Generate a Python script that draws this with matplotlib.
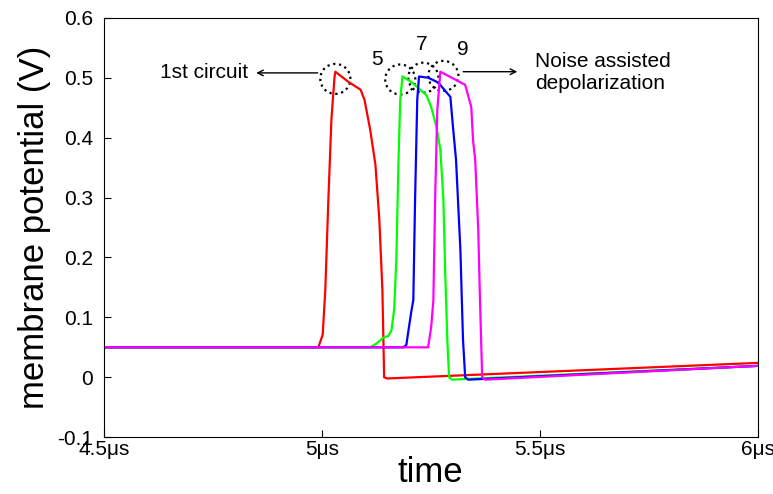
import matplotlib.pyplot as plt
from matplotlib.patches import Ellipse

plt.rcParams['font.family'] = ['Liberation Sans', 'DejaVu Sans']

# traces: time in microseconds, potential in volts
red_t = [4.5, 4.992, 5.002, 5.008, 5.015, 5.022, 5.029, 5.031, 5.061, 5.089, 5.098,
         5.111, 5.123, 5.132, 5.139, 5.143, 5.150, 6.0]
red_v = [0.05, 0.05, 0.071, 0.146, 0.296, 0.430, 0.500, 0.510, 0.493, 0.480, 0.463,
         0.413, 0.355, 0.263, 0.146, 0.0, -0.002, 0.024]

green_t = [4.5, 5.111, 5.125, 5.141, 5.153, 5.160, 5.166, 5.171, 5.176, 5.180, 5.185,
           5.205, 5.221, 5.240, 5.251, 5.263, 5.272, 5.279, 5.283, 5.288, 5.292, 5.299, 6.0]
green_v = [0.05, 0.05, 0.056, 0.066, 0.069, 0.079, 0.113, 0.196, 0.363, 0.463, 0.502,
           0.493, 0.483, 0.471, 0.451, 0.418, 0.380, 0.296, 0.179, 0.063, 0.0, -0.004, 0.019]

blue_t = [4.5, 5.187, 5.194, 5.198, 5.205, 5.210, 5.214, 5.219, 5.223, 5.244, 5.267,
          5.295, 5.301, 5.308, 5.318, 5.324, 5.329, 5.336, 6.0]
blue_v = [0.05, 0.05, 0.054, 0.074, 0.108, 0.129, 0.296, 0.463, 0.502, 0.500, 0.492,
          0.468, 0.418, 0.363, 0.213, 0.063, 0.0, -0.004, 0.019]

magenta_t = [4.5, 5.244, 5.251, 5.256, 5.260, 5.265, 5.272, 5.285, 5.306, 5.329, 5.343,
             5.347, 5.352, 5.359, 5.363, 5.368, 5.375, 6.0]
magenta_v = [0.05, 0.05, 0.084, 0.129, 0.296, 0.446, 0.510, 0.505, 0.497, 0.488, 0.451,
             0.396, 0.363, 0.246, 0.129, 0.0, -0.004, 0.019]

# peak markers (circle centres) and their labels
circle_t = [5.031, 5.180, 5.233, 5.279]
circle_v = [0.498, 0.497, 0.500, 0.503]
num_labels = ['5', '7', '9']
num_t = [5.127, 5.230, 5.324]
num_v = [0.530, 0.556, 0.547]

xticks = [4.5, 5.0, 5.5, 6.0]
xticklabels = ['4.5\u03bcs', '5\u03bcs', '5.5\u03bcs', '6\u03bcs']
yticks = [-0.1, 0, 0.1, 0.2, 0.3, 0.4, 0.5, 0.6]
yticklabels = ['-0.1', '0', '0.1', '0.2', '0.3', '0.4', '0.5', '0.6']

fig = plt.figure(figsize=(7.73, 4.94), dpi=100)
ax = fig.add_axes([0.1345, 0.115, 0.8455, 0.849])

ax.plot(red_t, red_v, color='#ff0000', lw=1.6)
ax.plot(green_t, green_v, color='#00ff00', lw=1.6)
ax.plot(blue_t, blue_v, color='#0000ff', lw=1.6)
ax.plot(magenta_t, magenta_v, color='#ff00ff', lw=1.6)

for t, v in zip(circle_t, circle_v):
    ax.add_patch(Ellipse((t, v), 0.069, 0.050, fill=False, ls=':', lw=1.6, color='black'))

for s, t, v in zip(num_labels, num_t, num_v):
    ax.text(t, v, s, fontsize=15, ha='center', va='center')

ax.annotate('', xy=(4.843, 0.508), xytext=(4.997, 0.508),
            arrowprops=dict(arrowstyle='->', lw=1, color='black'))
ax.text(4.628, 0.508, '1st circuit', fontsize=15, ha='left', va='center')
ax.annotate('', xy=(5.455, 0.51), xytext=(5.318, 0.51),
            arrowprops=dict(arrowstyle='->', lw=1, color='black'))
ax.text(5.489, 0.509, 'Noise assisted\ndepolarization', fontsize=15, ha='left', va='center',
        linespacing=1.2)

ax.set_xlim(4.5, 6.0)
ax.set_ylim(-0.1, 0.6)
ax.set_xticks(xticks)
ax.set_xticklabels(xticklabels, fontsize=15)
ax.set_yticks(yticks)
ax.set_yticklabels(yticklabels, fontsize=15)
ax.tick_params(direction='in', length=5, width=0.8)
ax.tick_params(axis='y', pad=8)
ax.tick_params(axis='x', pad=2)
ax.set_xlabel('time', fontsize=25, labelpad=-2)
ax.set_ylabel('membrane potential (V)', fontsize=25, labelpad=4)

plt.savefig('out.png', dpi=100)
plt.close()
